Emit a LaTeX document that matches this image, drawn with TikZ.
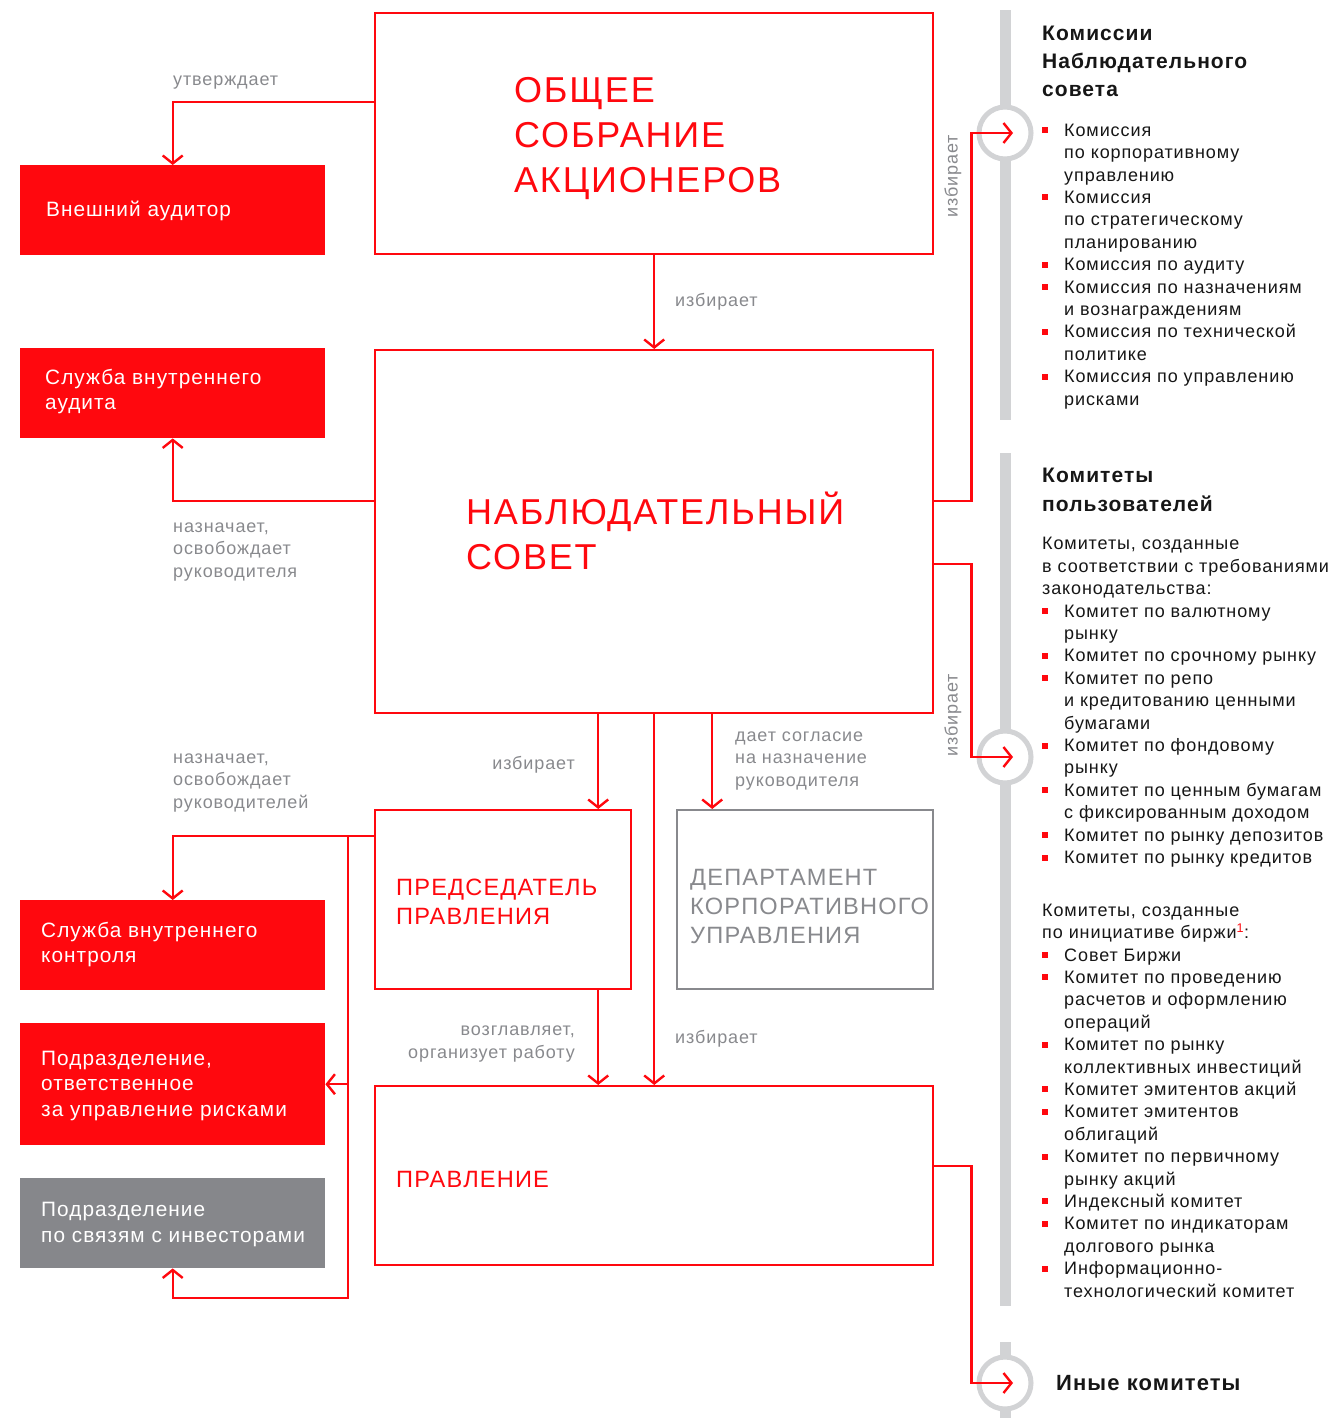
\documentclass[tikz,border=0pt]{standalone}
\usepackage{fontspec}
\setmainfont{Liberation Sans}[LetterSpace=5]
\usepackage{tikz}
\usetikzlibrary{arrows.meta, calc}
\definecolor{mred}{RGB}{255,8,14}
\definecolor{mgray}{RGB}{136,137,141}
\definecolor{mbar}{RGB}{210,211,213}
\definecolor{mbox}{RGB}{134,135,139}
\definecolor{mink}{RGB}{22,22,22}
\newcommand{\blt}{\makebox[22pt][l]{\textcolor{mred}{\rule[3pt]{6pt}{6pt}}}}
\newcommand{\ind}{\hspace*{22pt}}
\tikzset{
    frame/.style = {draw=mred, line width=2.4pt, anchor=north west, inner sep=0},
    redbox/.style = {fill=mred, anchor=north west, inner sep=0, minimum width=305},
    title/.style = {text=mred, anchor=base west, align=left, inner sep=0},
    boxtext/.style = {text=white, anchor=base west, align=left, inner sep=0,
        font=\fontsize{20.8}{25.3}\selectfont},
    note/.style = {text=mgray, anchor=base west, align=left, inner sep=0},
    listtext/.style = {text=mink, anchor=base west, align=left, inner sep=0},
    head/.style = {text=mink, anchor=base west, align=left, inner sep=0,
        font=\fontsize{21}{28.3}\selectfont\bfseries},
    ring/.style = {circle, draw=mbar, line width=5pt, fill=white, minimum size=52, inner sep=0},
    link/.style = {draw=mred, line width=2.4pt,
        -{Straight Barb[length=8pt,width=20pt]}},
}
\begin{document}
\begin{tikzpicture}[x=1pt, y=-1pt, font=\fontsize{18}{22.4}\selectfont]
    \useasboundingbox (0,0) rectangle (1335,1418);

    % grey rails on the right
    \fill[mbar] (1000,10) rectangle (1011,420);
    \fill[mbar] (1000,453) rectangle (1011,1306);
    \fill[mbar] (1000,1342) rectangle (1011,1418);
    \node[ring] (c1) at (1005,133) {};
    \node[ring] (c2) at (1005,757) {};
    \node[ring] (c3) at (1005,1383) {};

    % main bodies
    \node[frame, minimum width=558, minimum height=241] (gsm) at (374,12) {};
    \node[frame, minimum width=558, minimum height=363] (ns) at (374,349) {};
    \node[frame, minimum width=256, minimum height=179] (pp) at (374,809) {};
    \node[frame, draw=mgray, minimum width=256, minimum height=179] (dep) at (676,809) {};
    \node[frame, minimum width=558, minimum height=179] (pr) at (374,1085) {};

    % (base anchor = baseline of the last line)
    \node[title, font=\fontsize{36}{45}\selectfont] (gsm-t) at (514,192.5)
        {ОБЩЕЕ\\СОБРАНИЕ\\АКЦИОНЕРОВ};
    \node[title, font=\fontsize{36}{45}\selectfont] (ns-t) at (466,569)
        {НАБЛЮДАТЕЛЬНЫЙ\\СОВЕТ};
    \node[title, font=\fontsize{23.6}{29}\selectfont] (pp-t) at (396,924)
        {ПРЕДСЕДАТЕЛЬ\\ПРАВЛЕНИЯ};
    \node[title, text=mgray, font=\fontsize{23.6}{29}\selectfont] (dep-t) at (690,943)
        {ДЕПАРТАМЕНТ\\КОРПОРАТИВНОГО\\УПРАВЛЕНИЯ};
    \node[title, font=\fontsize{23.6}{29}\selectfont] (pr-t) at (396,1187) {ПРАВЛЕНИЕ};

    % side units
    \node[redbox, minimum height=90] (ext) at (20,165) {};
    \node[redbox, minimum height=90] (sva) at (20,348) {};
    \node[redbox, minimum height=90] (svk) at (20,900) {};
    \node[redbox, minimum height=122] (risk) at (20,1023) {};
    \node[redbox, fill=mbox, minimum height=90] (ir) at (20,1178) {};

    \node[boxtext] (ext-t) at (46,216.5) {Внешний аудитор};
    \node[boxtext] (sva-t) at (45,409.5) {Служба внутреннего\\аудита};
    \node[boxtext] (svk-t) at (41,962.5) {Служба внутреннего\\контроля};
    \node[boxtext] (risk-t) at (41,1116) {Подразделение,\\ответственное\\за управление рисками};
    \node[boxtext] (ir-t) at (41,1242) {Подразделение\\по связям с инвесторами};

    % connectors
    \draw[link] ([yshift=31.5]gsm.west) -| (ext.north);
    \draw[link] (gsm.south) -- (ns.north);
    \draw[link] ([yshift=30.5]ns.west) -| (sva.south);
    \draw[link] ([yshift=30.5]ns.east) -- ++(37,0) |- ([xshift=8]c1.center);
    \draw[link] ([yshift=-32.5]ns.east) -- ++(37,0) |- ([xshift=8]c2.center);
    \draw[link] ([xshift=-56]ns.south) -- ([xshift=-56]ns.south |- pp.north);
    \draw[link] (ns.south) -- (pr.north);
    \draw[link] ([xshift=58]ns.south) -- ([xshift=58]ns.south |- dep.north);
    \draw[link] ([xshift=95]pp.south) -- ([xshift=95]pp.south |- pr.north);
    \draw[link] ([yshift=9.7]pr.east) -- ++(37,0) |- ([xshift=8]c3.center);
    \coordinate (junc) at ([xshift=-26,yshift=63.5]pp.west);
    \draw[link] ([yshift=63.5]pp.west) -| (svk.north);
    \draw[link] (junc) -- ++(0,462) -| (ir.south);
    \draw[link] (junc |- risk.east) -- (risk.east);

    % labels
    \node[note] (l-appr) at (173,85.5) {утверждает};
    \node[note] (l-el1) at (675,306) {избирает};
    \node[note] (l-sva) at (173,577) {назначает,\\освобождает\\руководителя};
    \node[note] (l-svk) at (173,808) {назначает,\\освобождает\\руководителей};
    \node[note, anchor=base east] (l-el2) at (575,769) {избирает};
    \node[note] (l-dep) at (735,786) {дает согласие\\на назначение\\руководителя};
    \node[note, anchor=base east, align=right] (l-head) at (575,1058)
        {возглавляет,\\организует работу};
    \node[note] (l-el3) at (675,1043) {избирает};
    \node[note, anchor=center, rotate=90] (l-el4) at (953,176) {избирает};
    \node[note, anchor=center, rotate=90] (l-el5) at (953,715) {избирает};

    % right column
    \node[head] (h-kns) at (1042,97) {Комиссии\\Наблюдательного\\совета};
    \node[listtext] (kns-list) at (1042,405)
        {\blt Комиссия\\\ind по корпоративному\\\ind управлению\\
         \blt Комиссия\\\ind по стратегическому\\\ind планированию\\
         \blt Комиссия по аудиту\\
         \blt Комиссия по назначениям\\\ind и вознаграждениям\\
         \blt Комиссия по технической\\\ind политике\\
         \blt Комиссия по управлению\\\ind рисками};

    \node[head] (h-kp) at (1042,511) {Комитеты\\пользователей};
    \node[listtext] (kp-law) at (1042,863.5)
        {Комитеты, созданные\\в соответствии с требованиями\\законодательства:\\
         \blt Комитет по валютному\\\ind рынку\\
         \blt Комитет по срочному рынку\\
         \blt Комитет по репо\\\ind и кредитованию ценными\\\ind бумагами\\
         \blt Комитет по фондовому\\\ind рынку\\
         \blt Комитет по ценным бумагам\\\ind с фиксированным доходом\\
         \blt Комитет по рынку депозитов\\
         \blt Комитет по рынку кредитов};
    \node[listtext] (kp-own) at (1042,1297)
        {Комитеты, созданные\\по инициативе биржи\textcolor{mred}{\textsuperscript{1}}:\\
         \blt Совет Биржи\\
         \blt Комитет по проведению\\\ind расчетов и оформлению\\\ind операций\\
         \blt Комитет по рынку\\\ind коллективных инвестиций\\
         \blt Комитет эмитентов акций\\
         \blt Комитет эмитентов\\\ind облигаций\\
         \blt Комитет по первичному\\\ind рынку акций\\
         \blt Индексный комитет\\
         \blt Комитет по индикаторам\\\ind долгового рынка\\
         \blt Информационно-\\\ind технологический комитет};

    \node[head, font=\fontsize{22}{26}\selectfont\bfseries] (h-other) at (1056,1390) {Иные комитеты};
\end{tikzpicture}
\end{document}
